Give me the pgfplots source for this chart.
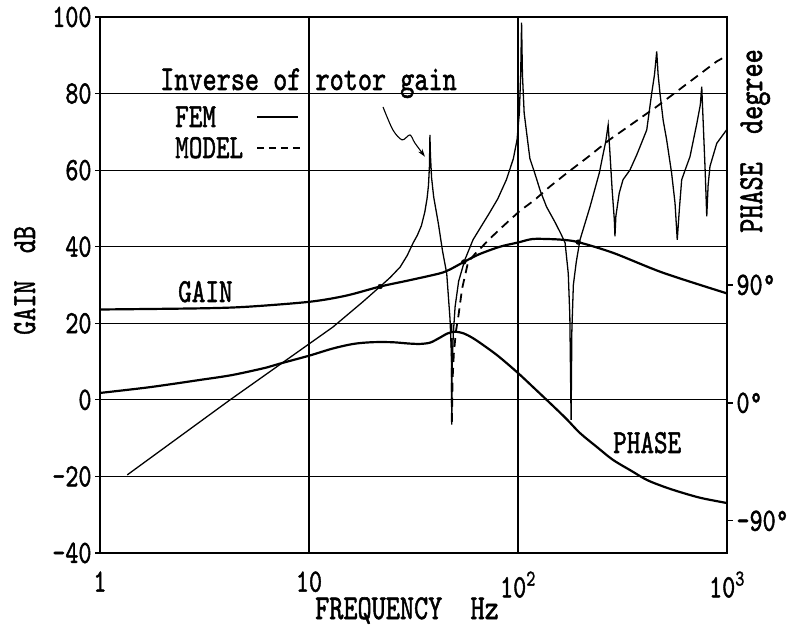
\documentclass[border=0pt]{standalone}
\usepackage{pgfplots}
\pgfplotsset{compat=1.18}
\usepackage{fontspec}
\newfontfamily\tf{lmmono10-regular.otf}[FakeBold=1.6]
\usetikzlibrary{arrows.meta}
\newcommand\lb[2][26]{\scalebox{1}[1.3]{\fontsize{#1}{#1}\selectfont\tf #2}}
\newcommand\tk[1]{\scalebox{1}[1.3]{\fontsize{25}{25}\selectfont\tf #1}}
\begin{document}
\begin{tikzpicture}
\begin{axis}[
  scale only axis, width=627bp, height=536bp,
  at={(0,0)}, anchor=south west,
  xmode=log, xmin=1, xmax=1000, ymin=-40, ymax=100,
  xtick={1,10,100,1000},
  xticklabels={\tk{1},\tk{10},\tk{10\textsuperscript{2}},\tk{10\textsuperscript{3}}},
  ytick={-40,-20,0,20,40,60,80,100},
  yticklabels={\tk{-40},\tk{-20},\tk{0},\tk{20},\tk{40},\tk{60},\tk{80},\tk{100}},
  xmajorgrids, ymajorgrids, grid style={black, line width=1.2pt},
  axis line style={line width=1.5pt},
  ytick pos=left, tick align=outside, major tick length=5bp,
  ytick style={black, line width=1.2pt},
  xtick style={draw=none},
  minor xtick={}, 
  xticklabel style={yshift=-10bp},
]
% GAIN (FEM)
\addplot[black, line width=2.2pt, smooth, no marks] coordinates {
(1,23.6) (3,23.9) (5,24.3) (10,25.6) (15,27.2) (21.9,29.6) (30,31.2) (42,33)
(47,34) (55,36) (65,38) (82,40) (100,41.1) (117,42) (140,42) (164,41.8)
(194,41.2) (285,38.4) (494,33.2) (1000,27.8)};
\addplot[black, only marks, mark=*, mark size=2.4pt] coordinates {(21.9,29.6) (55,36) (194,41.2)};
% Inverse of rotor gain (FEM)
\addplot[black, line width=1.3pt, no marks] coordinates {
(1.35,-19.6) (4.19,0) (13,19) (18,25.5) (21.9,29.6) (24.5,32) (27.3,34.7)
(29.5,37.7) (31.5,41) (33,43) (34.5,45.5) (35.8,49) (36.7,52.5) (37.3,56)
(37.7,61) (37.9,69.2) (38.1,64) (38.6,58)
(39.5,53) (41.6,46) (43.5,39) (45.6,33) (47.3,21) (48.0,12) (48.2,-6.5)
(48.4,8) (49,17) (50,24.3) (52,31) (55.7,36.6) (60.9,41.8) (67,45.5) (73,48.8)
(80,52.5) (88,57.5) (95,63) (99,68) (101.5,75) (103,85) (104,98.5)
(105,85) (107,75) (110,69.7) (114,63) (120.6,59) (128,54.5) (137,50.4) (150,46.5)
(160,43.5) (168,41) (174,33) (177,22) (179.5,-5.2) (181,18) (184,30) (190,36)
(198,41.8) (221,50.4) (245,59.3) (255,64) (263,67.5) (270,71.8) (275,65)
(282,55) (289,47) (291,42.7) (294,48) (305,54) (318,57.5) (343,60)
(370,64) (396,68) (413,70.5) (436,80) (450,85) (461,91) (468,85) (478,80)
(495,73) (514,68) (543,59.3) (564,51.4) (578,41.8) (592,50) (607,57.5) (635,60.5) (665,63.5)
(716,72) (745,77) (757,81.8) (770,72) (786,60) (800,47.9) (812,56)
(829,61) (893,67) (995,70.5)};
% MODEL
\addplot[black, line width=1.8pt, dash pattern=on 9pt off 6pt, no marks] coordinates {
(48.1,20) (48.25,-6.5) (48.6,5) (49.3,12) (50.5,18) (51.8,21.7) (54,29)
(57.7,36) (62,38) (66,39.5) (73,42) (84.6,45.3) (101.8,49.3) (120,52.2)
(142,55.7) (171,59.2) (217,63.5) (275,68) (461,76.6) (893,88.4) (985,89.7)};
% arrow
\addplot[black, line width=1.1pt, smooth, -{Stealth[length=8pt,width=5pt]}, forget plot] coordinates {
(22.6,76.5) (25.2,70.5) (27.9,67.9) (30.4,69.2) (32.1,67.1) (35.9,63.5)};
\end{axis}
\begin{axis}[
  scale only axis, width=627bp, height=536bp,
  at={(0,0)}, anchor=south west,
  xmode=log, xmin=1, xmax=1000, ymin=-114.5, ymax=294.4,
  axis x line=none, axis y line*=right,
  axis line style={line width=1.5pt},
  ytick={-90,0,90},
  yticklabels={\tk{-90\textdegree},\tk{0\textdegree},\tk{90\textdegree}},
  tick align=outside, major tick length=6bp,
  ytick style={black, line width=1.2pt},
]
\addplot[black, line width=2.2pt, smooth, no marks] coordinates {
(1,7.6) (1.73,12) (3,17.5) (4.3,21.3) (6.27,27) (7.27,30) (10,36) (13,41.5)
(16.3,45) (20,46.3) (25,46.3) (30,45.3) (34,45) (38,46) (42,49.5) (46,53)
(50,54.3) (55,53) (60,50) (66,45.7) (80,36) (100,22.8) (120,11) (142,0)
(170,-12) (198,-23) (240,-34) (285,-43.5) (350,-52) (414,-58.8) (500,-64)
(596,-68) (750,-72.5) (1000,-76.4)};
\end{axis}
\node[anchor=base west, inner sep=0] at (60bp,463bp) {\lb[27]{Inverse of rotor gain}};
\node[anchor=base west, inner sep=0] at (75bp,426bp) {\lb{FEM}};
\node[anchor=base west, inner sep=0] at (75bp,395bp) {\lb{MODEL}};
\draw[line width=1.3pt] (157bp,436bp) -- (198bp,436bp);
\draw[line width=1.5pt, dash pattern=on 7pt off 5pt] (157bp,405bp) -- (202bp,405bp);
\node[anchor=base west, inner sep=0] at (78bp,251bp) {\lb{GAIN}};
\node[anchor=base west, inner sep=0] at (513bp,100bp) {\lb{PHASE}};
\node[anchor=base west, inner sep=0] at (215bp,-66bp) {\lb[27]{FREQUENCY~~Hz}};
\node[anchor=base west, inner sep=0, rotate=90] at (-65bp,218bp) {\lb{GAIN~~dB}};
\node[anchor=base west, inner sep=0, rotate=90] at (662bp,320bp) {\lb[27]{PHASE~~degree}};
\pgfresetboundingbox
\path (-100bp,-73bp) rectangle (691bp,553bp);
\end{tikzpicture}
\end{document}
